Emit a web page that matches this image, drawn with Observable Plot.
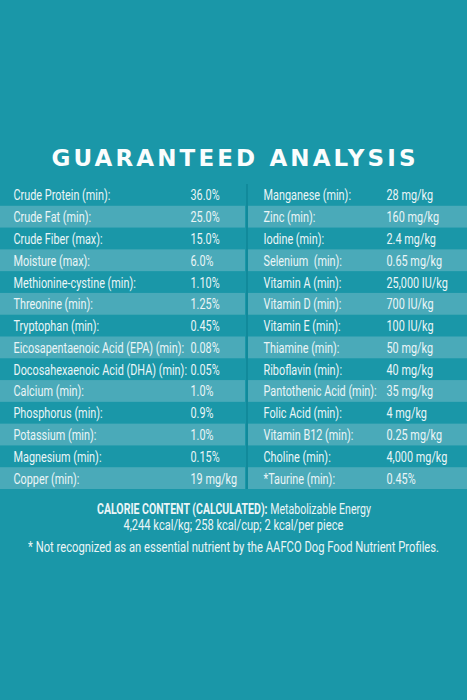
<!DOCTYPE html>
<html><head><meta charset="utf-8">
<script src="https://cdn.jsdelivr.net/npm/d3@7"></script>
<script src="https://cdn.jsdelivr.net/npm/@observablehq/plot@0.6"></script>
<style>
html,body{margin:0;padding:0;background:#1a97a8;width:467px;height:700px;overflow:hidden;position:relative;}
#title{position:absolute;left:0;width:467px;top:143px;text-align:center;color:#fafdfd;white-space:nowrap;
 font-family:"DejaVu Sans",sans-serif;font-weight:bold;font-size:23px;line-height:30px;}
#title span{display:inline-block;}
#chart{position:absolute;left:0;top:184px;}
#chart svg{display:block;}
.note{position:absolute;left:-300px;width:1067px;text-align:center;color:#eaf5f7;font-family:Roboto,sans-serif;font-size:14.5px;line-height:16px;white-space:nowrap;}
.note span{display:inline-block;transform-origin:50% 50%;}
</style></head>
<body>
<div id="title"><span>GUARANTEED ANALYSIS</span></div>
<div id="chart"></div>
<div class="note" style="top:502px"><span data-w="274"><b>CALORIE CONTENT (CALCULATED):</b> Metabolizable Energy</span></div>
<div class="note" style="top:518px"><span data-w="220">4,244 kcal/kg; 258 kcal/cup; 2 kcal/per piece</span></div>
<div class="note" style="top:540px"><span data-w="411">* Not recognized as an essential nutrient by the AAFCO Dog Food Nutrient Profiles.</span></div>
<script>
const leftNames = ["Crude Protein (min):","Crude Fat (min):","Crude Fiber (max):","Moisture (max):","Methionine-cystine (min):","Threonine (min):","Tryptophan (min):","Eicosapentaenoic Acid (EPA) (min):","Docosahexaenoic Acid (DHA) (min):","Calcium (min):","Phosphorus (min):","Potassium (min):","Magnesium (min):","Copper (min):"];
const leftValues = ["36.0%","25.0%","15.0%","6.0%","1.10%","1.25%","0.45%","0.08%","0.05%","1.0%","0.9%","1.0%","0.15%","19 mg/kg"];
const rightNames = ["Manganese (min):","Zinc (min):","Iodine (min):","Selenium\u00a0 (min):","Vitamin A (min):","Vitamin D (min):","Vitamin E (min):","Thiamine (min):","Riboflavin (min):","Pantothenic Acid (min):","Folic Acid (min):","Vitamin B12 (min):","Choline (min):","*Taurine (min):"];
const rightValues = ["28 mg/kg","160 mg/kg","2.4 mg/kg","0.65 mg/kg","25,000 IU/kg","700 IU/kg","100 IU/kg","50 mg/kg","40 mg/kg","35 mg/kg","4 mg/kg","0.25 mg/kg","4,000 mg/kg","0.45%"];

// layout (x positions in page pixels)
const L = {leftStart:0, leftEnd:245, leftName:13, leftValue:190, divider:246.5, rightStart:248, rightEnd:467, rightName:263, rightValue:386};
const REF_TEXT_WIDTH = 97;   // approx width of "Crude Protein (min):" in the reference
const TITLE_WIDTH = 364;

const rows = d3.range(leftNames.length);
const stripes = rows.filter(i => i % 2 === 1);
const stripeData = stripes.flatMap(i => [
  {row:i, x1:L.leftStart, x2:L.leftEnd},
  {row:i, x1:L.rightStart, x2:L.rightEnd}
]);
const cells = rows.flatMap(i => [
  {row:i, x:L.leftName, text:leftNames[i]},
  {row:i, x:L.leftValue, text:leftValues[i]},
  {row:i, x:L.rightName, text:rightNames[i]},
  {row:i, x:L.rightValue, text:rightValues[i]}
]);

const plot = Plot.plot({
  width:467, height:305,
  margin:0,
  style:{background:"transparent", fontFamily:"Roboto,sans-serif"},
  x:{domain:[0,467], range:[0,467], axis:null},
  y:{type:"band", domain:rows, padding:0, round:false, axis:null},
  marks:[
    Plot.barX(stripeData, {x1:"x1", x2:"x2", y:"row", fill:"#4aaab9"}),
    Plot.ruleX([L.divider], {stroke:"#118a9b", strokeWidth:2}),
    Plot.text(cells, {x:"x", y:"row", text:"text", textAnchor:"start", fill:"#eaf5f7", fontSize:15.5})
  ]
});
document.getElementById("chart").appendChild(plot);

// condense table text horizontally to mimic the reference's condensed face
const texts = Array.from(plot.querySelectorAll("text"));
const probe = texts.find(t => t.textContent === leftNames[0]);
const s = probe ? REF_TEXT_WIDTH / probe.getComputedTextLength() : 0.8;
texts.forEach(t => {
  const tr = t.getAttribute("transform");
  if (tr && tr.includes("translate")) {
    t.setAttribute("transform", tr + ` scale(${s},1)`);
  } else {
    const x = +t.getAttribute("x") || 0;
    t.setAttribute("transform", `translate(${x},0) scale(${s},1) translate(${-x},0)`);
  }
});

// title letter-spacing to reference width
const ts = document.querySelector("#title span");
const tw = ts.getBoundingClientRect().width;
const n = ts.textContent.length;
const ls = (TITLE_WIDTH - tw) / (n - 1);
ts.style.letterSpacing = ls + "px";
ts.style.marginLeft = ls + "px";

// condense note lines to reference widths
document.querySelectorAll(".note span").forEach(sp => {
  const w = sp.getBoundingClientRect().width;
  sp.style.transform = `scaleX(${(+sp.dataset.w) / w})`;
});
</script>
</body></html>
